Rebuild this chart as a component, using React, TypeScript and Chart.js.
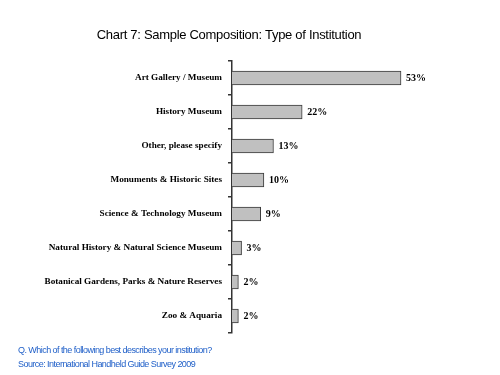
import React, { useEffect, useRef } from "react";
import { Chart, registerables } from "chart.js";

Chart.register(...registerables);

const categories = [
  "Art Gallery / Museum",
  "History Museum",
  "Other, please specify",
  "Monuments & Historic Sites",
  "Science & Technology Museum",
  "Natural History & Natural Science Museum",
  "Botanical Gardens, Parks & Nature Reserves",
  "Zoo & Aquaria",
];
const values = [53, 22, 13, 10, 9, 3, 2, 2];
const titleText = "Chart 7: Sample Composition: Type of Institution";
const footnotes = [
  "Q. Which of the following best describes your institution?",
  "Source: International Handheld Guide Survey 2009",
];

const valueLabels = {
  id: "valueLabels",
  afterDatasetsDraw(chart: any) {
    const ctx = chart.ctx;
    const meta = chart.getDatasetMeta(0);
    ctx.save();
    ctx.font = "bold 10px 'Liberation Serif', 'Times New Roman', serif";
    ctx.fillStyle = "#000";
    ctx.textAlign = "left";
    ctx.textBaseline = "middle";
    meta.data.forEach((bar: any, i: number) => {
      ctx.fillText(values[i] + "%", bar.x + 5, bar.y);
    });
    ctx.restore();
  },
};

const texts = {
  id: "texts",
  afterDraw(chart: any) {
    const ctx = chart.ctx;
    ctx.save();
    ctx.textBaseline = "middle";
    ctx.fillStyle = "#000";
    ctx.textAlign = "center";
    ctx.font = "13px 'Liberation Sans', Arial, sans-serif";
    (ctx as any).letterSpacing = "-0.3px";
    ctx.fillText(titleText, 229, 35);
    ctx.textAlign = "left";
    ctx.fillStyle = "#1f5fc8";
    ctx.font = "9px 'Liberation Sans', Arial, sans-serif";
    (ctx as any).letterSpacing = "-0.55px";
    footnotes.forEach((t, i) => ctx.fillText(t, 18, 351 + i * 14));
    ctx.restore();
  },
};

export default function App() {
  const ref = useRef<HTMLCanvasElement>(null);
  useEffect(() => {
    if (!ref.current) return;
    const chart = new Chart(ref.current, {
      type: "bar",
      data: {
        labels: categories,
        datasets: [
          {
            data: values,
            backgroundColor: "#c0c0c0",
            borderColor: "#3a3a3a",
            borderWidth: 1,
            barThickness: 14,
          },
        ],
      },
      options: {
        indexAxis: "y",
        responsive: false,
        animation: false,
        layout: { padding: { left: 0, right: 40, top: 61, bottom: 42 } },
        plugins: {
          legend: { display: false },
          tooltip: { enabled: false },
          title: { display: false },
        },
        scales: {
          x: { display: false, min: 0, max: 71.5 },
          y: {
            afterFit: (s: any) => {
              s.width = 232;
            },
            border: { display: true, color: "#333", width: 1.5 },
            grid: {
              display: true,
              offset: true,
              drawOnChartArea: false,
              drawTicks: true,
              tickLength: 4,
              color: "#333",
              lineWidth: 1.5,
            },
            ticks: {
              color: "#000",
              padding: 6,
              font: { family: "'Liberation Serif', 'Times New Roman', serif", size: 9.2, weight: "bold" },
            },
          },
        },
      },
      plugins: [valueLabels, texts],
    });
    return () => chart.destroy();
  }, []);
  return (
    <div style={{ position: "fixed", left: 0, top: 0, width: 500, height: 375, background: "#fff" }}>
      <canvas ref={ref} width={500} height={375} />
    </div>
  );
}
